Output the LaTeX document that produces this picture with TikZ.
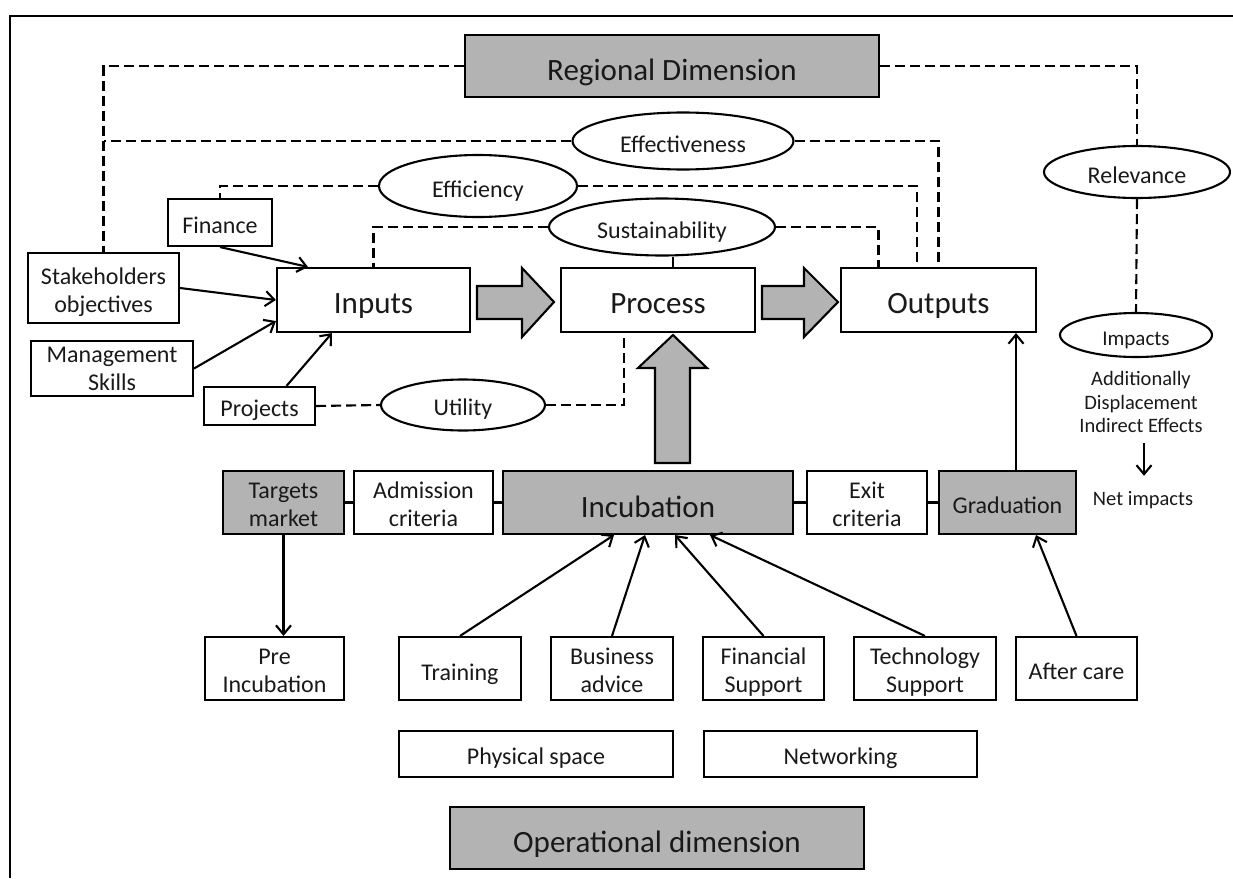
\documentclass[tikz,border=0pt]{standalone}
\usepackage{fontspec}
\setmainfont{Carlito}
\usetikzlibrary{shapes.geometric,arrows.meta}
\definecolor{boxgray}{RGB}{179,179,179}
\definecolor{ink}{RGB}{25,25,25}
% two stacked lines, baseline on the lower one
\newcommand\duo[2]{\begin{tabular}[b]{@{}c@{}}#1\\#2\end{tabular}}
\begin{document}
\begin{tikzpicture}[x=1pt,y=-1pt,
  box/.style={draw,line width=2.1pt,inner sep=0pt,text=ink,
              font=\fontsize{24}{28}\selectfont,text height=21pt,text depth=0pt},
  twobox/.style={box,text height=47pt},
  bigbox/.style={box,font=\fontsize{31}{36}\selectfont,text height=27pt},
  graybox/.style={fill=boxgray},
  oval/.style={draw,ellipse,line width=2.1pt,inner sep=0pt,text=ink,
               font=\fontsize{24}{28}\selectfont,text height=22pt,text depth=0pt},
  note/.style={inner sep=0pt,align=center,text=ink,font=\fontsize{20.5}{23.5}\selectfont},
  dashline/.style={dash pattern=on 10pt off 5pt,line width=2.1pt},
  link/.style={line width=2.1pt,-{Straight Barb[length=9pt,width=15pt]}},
  tie/.style={line width=2.1pt},
  blockarrow/.style={draw,fill=boxgray,line width=2.1pt,line join=miter}
]
\useasboundingbox (0,0) rectangle (1233,878);

% frame
\draw[line width=2.2pt] (10,878) -- (10,16) -- (1233,16);

% regional dimension and evaluation criteria
\node[bigbox,graybox,minimum width=414,minimum height=62,text height=28pt] (regional) at (672,66) {Regional Dimension};
\node[oval,minimum width=221,minimum height=57] (effect) at (683,141) {Effectiveness};
\node[oval,minimum width=198,minimum height=62] (effic) at (478,186) {Efficiency};
\node[oval,minimum width=226,minimum height=57] (sust) at (662,227) {Sustainability};
\node[oval,minimum width=186,minimum height=52] (relev) at (1137,172) {Relevance};
\node[oval,minimum width=152,minimum height=44,font=\fontsize{21}{24}\selectfont,text height=20pt] (impacts) at (1136,335) {Impacts};
\node[note] (effects) at (1141,402) {Additionally\\Displacement\\Indirect Effects};
\node[note,text height=14pt,text depth=0pt] (net) at (1143,498) {Net impacts};

% input side
\node[box,minimum width=104,minimum height=47] (finance) at (220,222.5) {Finance};
\node[twobox,minimum width=151,minimum height=70,text height=48pt] (stake) at (103.5,288) {\duo{Stakeholders}{objectives}};
\node[twobox,minimum width=162,minimum height=55,text height=43pt] (mgmt) at (112,368.5) {\duo{Management}{Skills}};
\node[box,minimum width=111,minimum height=38,text height=20pt] (projects) at (259.5,406) {Projects};
\node[oval,minimum width=164,minimum height=51,text height=20pt] (utility) at (463,405) {Utility};

% main chain
\node[bigbox,minimum width=193,minimum height=64] (inputs) at (373.5,300) {Inputs};
\node[bigbox,minimum width=194,minimum height=64] (process) at (658,300) {Process};
\node[bigbox,minimum width=195,minimum height=64] (outputs) at (938.5,300) {Outputs};

% incubation row
\node[twobox,graybox,minimum width=121,minimum height=63] (targets) at (283.5,502.5) {\duo{Targets}{market}};
\node[twobox,minimum width=139,minimum height=63] (admission) at (423.5,502.5) {\duo{Admission}{criteria}};
\node[bigbox,graybox,minimum width=290,minimum height=63,text height=29pt] (incubation) at (648,502.5) {Incubation};
\node[twobox,minimum width=120,minimum height=63] (exit) at (867,502.5) {\duo{Exit}{criteria}};
\node[box,graybox,minimum width=137,minimum height=63] (graduation) at (1007.5,502.5) {Graduation};

% services
\node[twobox,minimum width=139,minimum height=63] (pre) at (274.5,668.5) {\duo{Pre}{Incubation}};
\node[box,minimum width=122,minimum height=63,text height=23pt] (training) at (460,668.5) {Training};
\node[twobox,minimum width=122,minimum height=63] (business) at (612,668.5) {\duo{Business}{advice}};
\node[twobox,minimum width=121,minimum height=63] (financial) at (763.5,668.5) {\duo{Financial}{Support}};
\node[twobox,minimum width=142,minimum height=63] (technology) at (925,668.5) {\duo{Technology}{Support}};
\node[box,minimum width=121,minimum height=63] (aftercare) at (1076.5,668.5) {After care};
\node[box,minimum width=274,minimum height=46] (physical) at (536,754) {Physical space};
\node[box,minimum width=273,minimum height=46] (networking) at (840.5,754) {Networking};
\node[bigbox,graybox,minimum width=414,minimum height=62,text height=28pt] (operational) at (657,838) {Operational dimension};

% block arrows
\draw[blockarrow] (477,286) -- (522,286) -- (522,268) -- (554,302) -- (522,337) -- (522,319) -- (477,319) -- cycle;
\draw[blockarrow] (762,286) -- (804,286) -- (804,268) -- (838,302) -- (804,337) -- (804,319) -- (762,319) -- cycle;
\draw[blockarrow] (655,463) -- (655,368) -- (638,368) -- (673,335) -- (707,368) -- (690,368) -- (690,463) -- cycle;

% dashed relations
\draw[dashline] (regional.west) -| (stake.north);
\draw[dashline] (effect.west) -- (effect.west -| stake.north);
\draw[dashline] (effic.west) -| (finance.north);
\draw[dashline] (sust.west) -| (inputs.north);
\draw[dashline] (sust.east) -| ([xshift=-60pt]outputs.north);
\draw[dashline] (effic.east) -| ([xshift=-21.5pt]outputs.north);
\draw[dashline] (effect.east) -| (outputs.north);
\draw[dashline] (regional.east) -| (relev.north);
\draw[dashline] (relev.south) -- (impacts.north);
\draw[dashline] (projects.east) -- (utility.west);
\draw[dashline] (utility.east) -| ([xshift=-34pt]process.south);

% solid ties
\coordinate (sustfoot) at ([xshift=15pt]process.north);
\draw[tie] (sustfoot) -- (sustfoot |- sust.south);
\draw[tie] (targets.east) -- (admission.west);
\draw[tie] (admission.east) -- (incubation.west);
\draw[tie] (incubation.east) -- (exit.west);
\draw[tie] (exit.east) -- (graduation.west);

% arrows
\draw[link] (finance.south) -- ([xshift=-65.5pt]inputs.north);
\draw[link] (stake.east) -- (inputs.west);
\draw[link] (mgmt.east) -- ([yshift=12pt]inputs.south west);
\draw[link] ([xshift=27pt]projects.north) -- ([xshift=-41.5pt]inputs.south);
\draw[link] (targets.south) -- (targets.south |- pre.north);
\draw[link] (training.north) -- ([xshift=-34pt]incubation.south);
\draw[link] (business.north) -- ([xshift=-3pt]incubation.south);
\draw[link] (financial.north) -- ([xshift=27pt]incubation.south);
\draw[link] (technology.north) -- ([xshift=62pt]incubation.south);
\draw[link] (aftercare.north) -- ([xshift=28.5pt]graduation.south);
\coordinate (gradtop) at ([xshift=8.5pt]graduation.north);
\draw[link] (gradtop) -- (gradtop |- outputs.south);
\coordinate (netstart) at ([xshift=3pt,yshift=-10pt]effects.south);
\coordinate (netend) at ([yshift=15pt]net.north);
\draw[link] (netstart) -- (netstart |- netend);
\end{tikzpicture}
\end{document}
